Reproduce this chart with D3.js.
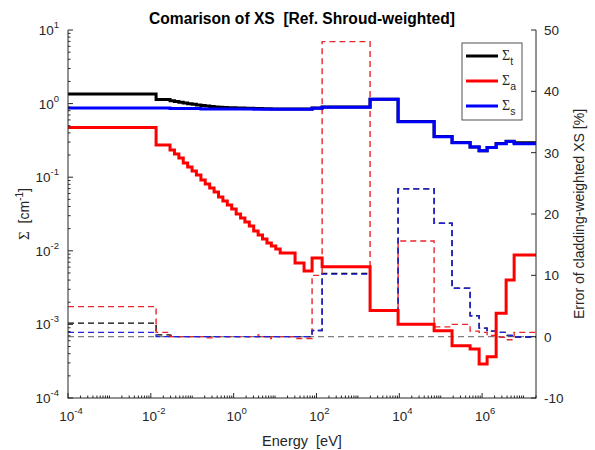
<!doctype html>
<html>
<head>
<meta charset="utf-8">
<style>
  body { margin: 0; background: #fff; }
  svg { font-family: "Liberation Sans", Arial, sans-serif; }
  text { white-space: pre; }
</style>
</head>
<body>
<script src="https://cdn.jsdelivr.net/npm/d3@7"></script>
<script>

  // group boundaries [eV]
  var eb = [1e-4, 0.0134, 0.0291, 0.0372, 0.0475, 0.0607, 0.0776, 0.0991, 0.126, 0.162, 0.206,
            0.264, 0.337, 0.431, 0.550, 0.703, 0.898, 1.15, 1.47, 1.87, 2.39, 3.05, 3.90, 4.98,
            6.37, 8.13, 10.4, 13.3, 30.4, 50.1, 78.3, 137, 1970, 9350, 69300, 188000, 513000,
            847000, 1.32e6, 2.18e6, 3.80e6, 5.93e6, 2.0e7];

  // cross sections [1/cm] (left axis)
  var sigT = [1.349, 1.137, 1.095, 1.068, 1.041, 1.019, 0.997, 0.978, 0.957, 0.942, 0.928, 0.913,
              0.899, 0.891, 0.885, 0.880, 0.875, 0.872, 0.869, 0.866, 0.863, 0.860, 0.857, 0.853,
              0.850, 0.846, 0.843, 0.846, 0.843, 0.842, 0.871, 0.897, 1.146, 0.569, 0.356, 0.295,
              0.257, 0.229, 0.253, 0.286, 0.309, 0.294];
  var sigA = [0.4735, 0.2738, 0.2342, 0.2066, 0.1823, 0.1559, 0.1376, 0.1214, 0.1071, 0.0916,
              0.0808, 0.0713, 0.0629, 0.0538, 0.0475, 0.0419, 0.0370, 0.0316, 0.0279, 0.0246,
              0.0217, 0.0186, 0.0164, 0.0145, 0.0128, 0.0116, 0.0106, 0.00933, 0.00683, 0.00531,
              0.00798, 0.00608, 0.001545, 0.001003, 0.000821, 0.000514, 0.000463, 0.000290,
              0.000364, 0.001415, 0.00401, 0.00877];
  var sigS = [0.871, 0.871, 0.858, 0.858, 0.858, 0.858, 0.858, 0.858, 0.858, 0.847, 0.847, 0.847,
              0.847, 0.847, 0.847, 0.847, 0.847, 0.847, 0.847, 0.847, 0.847, 0.835, 0.835, 0.835,
              0.835, 0.835, 0.835, 0.837, 0.837, 0.837, 0.863, 0.891, 1.144, 0.568, 0.355, 0.294,
              0.257, 0.229, 0.253, 0.285, 0.305, 0.285];

  // error of cladding-weighted XS [%] (right axis)
  var errT = [2.2, 0.3, 0.2, 0, 0, 0, 0, 0, 0, 0, 0, 0, 0, 0, 0, 0, 0, 0, 0, 0, 0, 0, 0, 0, 0, 0,
              0, 0, 0, 0, 1.0, 10.3, 4.3, 24.1, 18.5, 7.9, 3.4, 1.4, 0.9, 0.7, 0.2, -0.05];
  var errA = [4.9, 0.7, 0, 0, 0, 0, 0, 0, 0, 0, -0.2, -0.2, 0, 0, 0, 0, 0, 0, 0, 0, 0, 0, 0.3, 0,
              -0.3, 0, 0, 0, -0.3, -0.3, 10.0, 48.1, 4.2, 15.6, 1.6, 2.0, 0.9, 0.7, 0.2, -0.1, -0.5, 0.7];
  var errS = [0.7, 0, 0, 0, 0, 0, 0, 0, 0, 0, 0, 0, 0, 0, 0, 0, 0, 0, 0, 0, 0, 0, 0, 0, 0, 0,
              0, 0, 0, 0, 1.0, 10.2, 4.3, 24.1, 18.5, 7.9, 3.4, 1.4, 0.9, 0.7, 0.2, -0.05];

  var xDecLabels = [-4, -2, 0, 2, 4, 6];
  var yDecLabels = [-4, -3, -2, -1, 0, 1];
  var rTicks = [-10, 0, 10, 20, 30, 40, 50];

  var width = 595, height = 450;
  var L = 68, R = 536, T = 30, B = 398;

  var x = d3.scaleLog().domain([1e-4, 2e7]).range([L, R]);
  var y = d3.scaleLog().domain([1e-4, 10]).range([B, T]);
  var yr = d3.scaleLinear().domain([-10, 50]).range([B, T]);

  var svg = d3.select("body").append("svg").attr("width", width).attr("height", height);
  var axisCol = "#262626";

  // step path from group values
  function steps(vals, ys) {
    var pts = [];
    vals.forEach(function(v, i){
      pts.push([x(eb[i]), ys(v)]);
      pts.push([x(eb[i+1]), ys(v)]);
    });
    return d3.line()(pts);
  }

  var plot = svg.append("g");

  // error curves (right axis)
  plot.append("line")
      .attr("x1", L).attr("x2", R).attr("y1", yr(0)).attr("y2", yr(0))
      .attr("stroke", "#808080").attr("stroke-width", 1.3).attr("stroke-dasharray", "6,4");
  [[errT, "#000000"], [errA, "#e8262a"], [errS, "#2222dd"]].forEach(function(s){
    plot.append("path")
        .attr("d", steps(s[0], yr))
        .attr("fill", "none").attr("stroke", s[1])
        .attr("stroke-width", 1.4).attr("stroke-dasharray", "6,4");
  });

  // cross sections (left axis)
  [[sigT, "#000000"], [sigA, "#ff0000"], [sigS, "#0000ff"]].forEach(function(s){
    plot.append("path")
        .attr("d", steps(s[0], y))
        .attr("fill", "none").attr("stroke", s[1])
        .attr("stroke-width", 3).attr("stroke-linejoin", "miter");
  });

  // axes
  var ax = svg.append("g").attr("stroke", axisCol).attr("fill", "none");
  ax.append("line").attr("x1", L).attr("x2", L).attr("y1", T).attr("y2", B + 0.5);
  ax.append("line").attr("x1", R).attr("x2", R).attr("y1", T).attr("y2", B + 0.5);
  ax.append("line").attr("x1", L).attr("x2", R).attr("y1", B).attr("y2", B);

  var xMinor = [], yMinor = [];
  for (var d = -4; d <= 7; d++) {
    for (var m = 1; m <= 9; m++) {
      var v = m * Math.pow(10, d);
      if (v <= 2e7) xMinor.push(v);
      if (v <= 10) yMinor.push(v);
    }
  }
  ax.selectAll(".xt").data(xMinor).join("line")
    .attr("x1", function(d){ return x(d); }).attr("x2", function(d){ return x(d); })
    .attr("y1", B).attr("y2", function(d){
      var lg = Math.log10(d);
      return (Math.abs(lg - Math.round(lg)) < 1e-9 && Math.round(lg) % 2 === 0) ? B - 5 : B - 2.5;
    });
  ax.selectAll(".yt").data(yMinor).join("line")
    .attr("y1", function(d){ return y(d); }).attr("y2", function(d){ return y(d); })
    .attr("x1", L).attr("x2", function(d){
      var lg = Math.log10(d);
      return Math.abs(lg - Math.round(lg)) < 1e-9 ? L + 5 : L + 2.5;
    });
  ax.selectAll(".rt").data(rTicks).join("line")
    .attr("y1", function(d){ return yr(d); }).attr("y2", function(d){ return yr(d); })
    .attr("x1", R).attr("x2", R - 5);

  var txt = svg.append("g").attr("fill", "#262626").attr("font-size", 13.5);

  function pow10(sel, e) {
    sel.append("tspan").text("10");
    sel.append("tspan").attr("dy", -7).attr("font-size", 9.5).text(e);
  }
  xDecLabels.forEach(function(e){
    var t = txt.append("text").attr("x", x(Math.pow(10, e)) + 3).attr("y", B + 23)
               .attr("text-anchor", "middle");
    pow10(t, e);
  });
  yDecLabels.forEach(function(e){
    var t = txt.append("text").attr("x", L - 9).attr("y", y(Math.pow(10, e)) + 5)
               .attr("text-anchor", "end");
    pow10(t, e);
  });
  rTicks.forEach(function(v){
    txt.append("text").attr("x", R + 8).attr("y", yr(v) + 5).text(v);
  });

  // titles
  svg.append("text").attr("x", 302).attr("y", 24).attr("text-anchor", "middle")
     .attr("font-size", 15.6).attr("font-weight", "bold").attr("fill", "#000")
     .text("Comarison of XS  [Ref. Shroud-weighted]");
  svg.append("text").attr("x", 302).attr("y", 446).attr("text-anchor", "middle")
     .attr("font-size", 14.5).attr("fill", "#262626").text("Energy  [eV]");

  var yl = svg.append("text").attr("transform", "translate(29,214) rotate(-90)")
     .attr("text-anchor", "middle").attr("font-size", 14).attr("fill", "#262626");
  yl.append("tspan").attr("font-family", "Liberation Serif").attr("font-size", 15).text("\u03A3");
  yl.append("tspan").text("  [cm");
  yl.append("tspan").attr("dy", -6).attr("font-size", 10).text("-1");
  yl.append("tspan").attr("dy", 6).text("]");

  svg.append("text").attr("transform", "translate(584,214) rotate(-90)")
     .attr("text-anchor", "middle").attr("font-size", 14).attr("fill", "#262626")
     .text("Error of cladding-weighted XS [%]");

  // legend
  var legItems = [["t", "#000000"], ["a", "#ff0000"], ["s", "#0000ff"]];
  var lg = svg.append("g").attr("transform", "translate(462,43)");
  lg.append("rect").attr("width", 60).attr("height", 77)
    .attr("fill", "#fff").attr("stroke", "#262626").attr("stroke-width", 0.8);
  legItems.forEach(function(it, i){
    var yy = 13 + i * 25;
    lg.append("line").attr("x1", 4).attr("x2", 36).attr("y1", yy).attr("y2", yy)
      .attr("stroke", it[1]).attr("stroke-width", 3);
    var t = lg.append("text").attr("x", 40).attr("y", yy + 4).attr("font-size", 14).attr("fill", "#262626");
    t.append("tspan").attr("font-family", "Liberation Serif").text("\u03A3");
    t.append("tspan").attr("dy", 5).attr("font-size", 10.5).text(it[0]);
  });

</script>
</body>
</html>
